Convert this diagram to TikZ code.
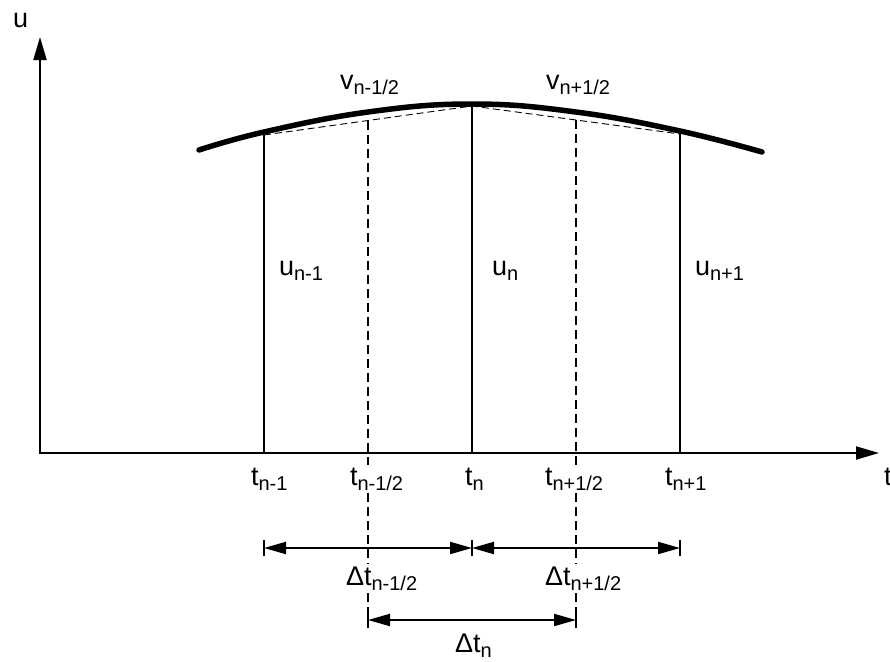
\documentclass[tikz,border=0pt]{standalone}
\usepackage{fontspec}
\setmainfont{Liberation Sans}
\usetikzlibrary{arrows.meta}
\newcommand\lbl[2]{#1\raisebox{-5pt}{\fontsize{20}{22}\selectfont #2}}
\begin{document}
\begin{tikzpicture}[x=1pt,y=-1pt,
  lab/.style={inner sep=0pt, outer sep=3pt, anchor=base west, font=\fontsize{27}{30}\selectfont},
  axisline/.style={line width=2pt},
  solidv/.style={line width=1.6pt},
  dashv/.style={line width=1.8pt, dash pattern=on 9pt off 5pt},
  chord/.style={line width=0.9pt, dash pattern=on 7pt off 4pt},
  curveline/.style={line width=5.5pt, line cap=round},
  dimline/.style={line width=2pt, {Triangle[length=22pt,width=12pt]}-{Triangle[length=22pt,width=12pt]}},
  tick/.style={line width=2pt}
]
\useasboundingbox (0,0) rectangle (890,661);
% axes
\coordinate (O) at (40,453);
\coordinate (Ytop) at (40,37);
\coordinate (Xend) at (879,453);
\draw[axisline, {Triangle[length=23pt,width=13pt]}-{Triangle[length=23pt,width=13pt]}] (Ytop) -- (O) -- (Xend);
% points
\coordinate (A1) at (264,135);
\coordinate (A2) at (472,106);
\coordinate (A3) at (680,134);
\coordinate (B1) at (264,453);
\coordinate (B2) at (472,453);
\coordinate (B3) at (680,453);
\coordinate (M1) at (368,120.5);
\coordinate (M2) at (576,120);
\coordinate (D1) at (368,628);
\coordinate (D2) at (576,628);
% labels
\node[lab] (lu) at (10,28) {u};
\node[lab] (lt) at (881,485) {t};
\node[lab] (v1) at (337,89) {\lbl{v}{n-1/2}};
\node[lab] (v2) at (543,89) {\lbl{v}{n+1/2}};
\node[lab] (u1) at (276,275) {\lbl{u}{n-1}};
\node[lab] (u2) at (489,275) {\lbl{u}{n}};
\node[lab] (u3) at (692,275) {\lbl{u}{n+1}};
\node[lab] (t1) at (248,485) {\lbl{t}{n-1}};
\node[lab] (t2) at (347,485) {\lbl{t}{n-1/2}};
\node[lab] (t3) at (462,485) {\lbl{t}{n}};
\node[lab] (t4) at (542,485) {\lbl{t}{n+1/2}};
\node[lab] (t5) at (662,485) {\lbl{t}{n+1}};
\node[lab] (d1) at (343,585) {\lbl{Δt}{n-1/2}};
\node[lab] (d2) at (542,585) {\lbl{Δt}{n+1/2}};
\node[lab] (d3) at (452,652) {\lbl{Δt}{n}};
% dashed mid lines, broken by the labels
\draw[dashv] (M1) -- (t2.north -| M1);
\draw[dashv] (t2.south -| M1) -- (d1.north -| M1);
\draw[dashv] (d1.south -| M1) -- (D1);
\draw[dashv] (M2) -- (t4.north -| M2);
\draw[dashv] (t4.south -| M2) -- (d2.north -| M2);
\draw[dashv] (d2.south -| M2) -- (D2);
% solid verticals
\draw[solidv] (B1) -- (A1);
\draw[solidv] (B2) -- (A2);
\draw[solidv] (B3) -- (A3);
% chords
\draw[chord] (A1) -- (A2) -- (A3);
% curve
\draw[curveline] plot[smooth, tension=0.7] coordinates {(199,150) (264,132) (368,112) (472,104) (576,112) (680,131) (762,152)};
% dimension lines
\coordinate (R1a) at (264,548);
\coordinate (R1b) at (472,548);
\coordinate (R1c) at (680,548);
\coordinate (R2a) at (368,620);
\coordinate (R2b) at (576,620);
\draw[dimline] (R1a) -- (R1b);
\draw[dimline] (R1b) -- (R1c);
\draw[dimline] (R2a) -- (R2b);
\foreach \p in {R1a,R1b,R1c,R2a,R2b}
  \draw[tick] ([yshift=-8pt]\p) -- ([yshift=8pt]\p);
\end{tikzpicture}
\end{document}
